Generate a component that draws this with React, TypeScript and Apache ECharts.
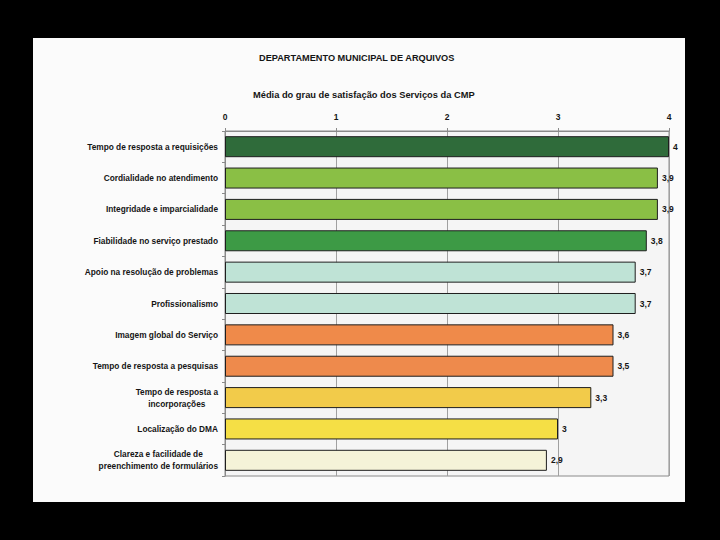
import React, { useEffect, useRef } from "react";
import * as echarts from "echarts";

const mainTitle = "DEPARTAMENTO MUNICIPAL DE ARQUIVOS";
const subTitle = "Média do grau de satisfação dos Serviços da CMP";

const categories = [
  "Tempo de resposta a requisições",
  "Cordialidade no atendimento",
  "Integridade e imparcialidade",
  "Fiabilidade no serviço prestado",
  "Apoio na resolução de problemas",
  "Profissionalismo",
  "Imagem global do Serviço",
  "Tempo de resposta a pesquisas",
  "Tempo de resposta a\nincorporações",
  "Localização do DMA",
  "Clareza e facilidade de\npreenchimento de formulários",
];

const values = [4, 3.9, 3.9, 3.8, 3.7, 3.7, 3.5, 3.5, 3.3, 3, 2.9];
const valueLabels = ["4", "3,9", "3,9", "3,8", "3,7", "3,7", "3,6", "3,5", "3,3", "3", "2,9"];

const barColors = [
  "#2f6b3a",
  "#8abf45",
  "#8abf45",
  "#3d9a45",
  "#bfe3d6",
  "#bfe3d6",
  "#ef8a4a",
  "#ee8a4c",
  "#f2cb4a",
  "#f5df45",
  "#f5f3d8",
];

const axisMin = 0;
const axisMax = 4;
const axisInterval = 1;

export default function App() {
  const ref = useRef<HTMLDivElement | null>(null);

  useEffect(() => {
    if (!ref.current) return;
    const chart = echarts.init(ref.current, null, { renderer: "svg" });
    const font = "'Liberation Sans', Arial, sans-serif";
    chart.setOption({
      animation: false,
      backgroundColor: "transparent",
      textStyle: { fontFamily: font },
      graphic: [
        {
          type: "text",
          x: 259,
          y: 58,
          style: {
            text: mainTitle,
            font: `bold 9.2px ${font}`,
            fill: "#151515",
            verticalAlign: "middle",
            align: "left",
          },
        },
        {
          type: "text",
          x: 253,
          y: 95,
          style: {
            text: subTitle,
            font: `bold 9.3px ${font}`,
            fill: "#151515",
            verticalAlign: "middle",
            align: "left",
          },
        },
      ],
      grid: {
        left: 225,
        top: 131,
        width: 444,
        height: 345,
        show: true,
        backgroundColor: "#f5f5f5",
        borderColor: "#8a8a8a",
        borderWidth: 1,
        containLabel: false,
      },
      xAxis: {
        type: "value",
        position: "top",
        min: axisMin,
        max: axisMax,
        interval: axisInterval,
        axisLine: { show: true, lineStyle: { color: "#8a8a8a", width: 1 } },
        axisTick: { show: true, length: 3, lineStyle: { color: "#8a8a8a" } },
        axisLabel: {
          color: "#151515",
          fontSize: 8.5,
          fontWeight: "bold",
          margin: 10,
        },
        splitLine: { show: true, lineStyle: { color: "#a0a0a0", width: 1 } },
      },
      yAxis: {
        type: "category",
        inverse: true,
        data: categories,
        axisLine: { show: true, lineStyle: { color: "#8a8a8a", width: 1 } },
        axisTick: { show: true, length: 3, lineStyle: { color: "#8a8a8a" } },
        axisLabel: {
          color: "#151515",
          fontSize: 8.3,
          fontWeight: "bold",
          margin: 7,
          lineHeight: 12,
          formatter: (v: string) =>
            v.includes("\n")
              ? v
                  .split("\n")
                  .map((l) => `{c|${l}}`)
                  .join("\n")
              : v,
          rich: {
            c: {
              align: "center",
              fontSize: 8.3,
              fontWeight: "bold",
              color: "#151515",
              lineHeight: 12,
              fontFamily: font,
            },
          },
        },
        splitLine: { show: false },
      },
      series: [
        {
          type: "bar",
          barCategoryGap: "33%",
          data: values.map((v, i) => ({
            value: v,
            itemStyle: {
              color: barColors[i],
              borderColor: "#1e1e1e",
              borderWidth: 1,
            },
          })),
          label: {
            show: true,
            position: "right",
            distance: 4,
            color: "#151515",
            fontSize: 8.5,
            fontWeight: "bold",
            formatter: (p: any) => valueLabels[p.dataIndex],
          },
        },
      ],
    });
    return () => chart.dispose();
  }, []);

  return (
    <div
      style={{
        position: "fixed",
        left: 0,
        top: 0,
        width: 720,
        height: 540,
        background: "#000",
        overflow: "hidden",
      }}
    >
      <div
        style={{
          position: "absolute",
          left: 33,
          top: 38,
          width: 652,
          height: 464,
          background: "#fbfbfb",
        }}
      />
      <div
        ref={ref}
        style={{ position: "absolute", left: 0, top: 0, width: 720, height: 540 }}
      />
    </div>
  );
}
